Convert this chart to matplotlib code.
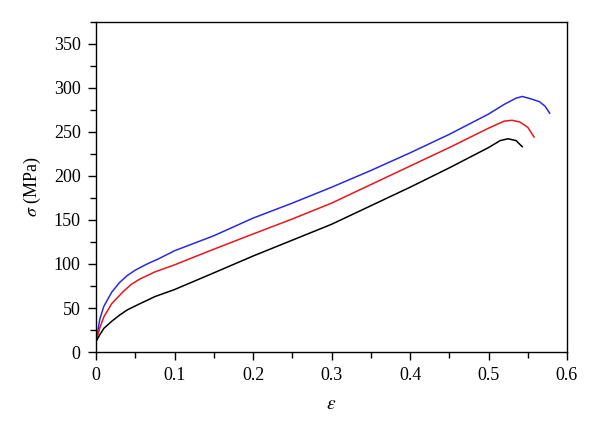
import matplotlib
matplotlib.use("Agg")
import matplotlib.pyplot as plt
from matplotlib.ticker import MultipleLocator

# Stress-strain curves
blue_strain = [0, 0.005, 0.01, 0.02, 0.03, 0.04, 0.05, 0.065, 0.08, 0.1, 0.15, 0.2, 0.25, 0.3,
               0.35, 0.4, 0.45, 0.5, 0.52, 0.535, 0.543, 0.555, 0.565, 0.572, 0.578]
blue_stress = [12, 38, 52, 68, 79, 87, 93, 100, 106, 115, 132, 152, 169, 187,
               206, 226, 247, 270, 281, 288, 290, 287, 284, 279, 271]

red_strain = [0, 0.005, 0.01, 0.02, 0.035, 0.045, 0.056, 0.075, 0.1, 0.145, 0.2, 0.25, 0.3,
              0.35, 0.4, 0.45, 0.5, 0.52, 0.53, 0.54, 0.55, 0.558]
red_stress = [12, 28, 40, 55, 69, 77, 83, 91, 99, 115, 134, 151, 169,
              190, 211, 232, 254, 262, 263, 261, 255, 244]

black_strain = [0, 0.005, 0.01, 0.02, 0.03, 0.04, 0.056, 0.075, 0.1, 0.145, 0.2, 0.25, 0.3,
                0.35, 0.4, 0.45, 0.5, 0.515, 0.525, 0.535, 0.543]
black_stress = [12, 20, 27, 35, 42, 48, 55, 63, 71, 88, 109, 127, 145,
                166, 187, 209, 232, 240, 242, 240, 233]

plt.rcParams["font.family"] = ["Liberation Serif", "DejaVu Serif"]
plt.rcParams["mathtext.fontset"] = "stix"

fig = plt.figure(figsize=(6, 4.3), dpi=100, facecolor="white")
ax = fig.add_axes([0.16, 0.181, 0.785, 0.769])

ax.plot(blue_strain, blue_stress, color="#2a2ae0", linewidth=1.1)
ax.plot(red_strain, red_stress, color="#e8171c", linewidth=1.1)
ax.plot(black_strain, black_stress, color="#000000", linewidth=1.1)

ax.set_xlim(0, 0.6)
ax.set_ylim(0, 375)
ax.xaxis.set_major_locator(MultipleLocator(0.1))
ax.xaxis.set_minor_locator(MultipleLocator(0.05))
ax.yaxis.set_major_locator(MultipleLocator(50))
ax.yaxis.set_minor_locator(MultipleLocator(25))
ax.xaxis.set_major_formatter(plt.FuncFormatter(lambda v, p: "0" if v == 0 else f"{v:g}"))

ax.tick_params(which="both", direction="out", top=False, right=False,
               labelsize=13, width=1.0, pad=5)
ax.tick_params(which="major", length=6)
ax.tick_params(which="minor", length=4)
for spine in ax.spines.values():
    spine.set_linewidth(1.0)

ax.set_xlabel(r"$\varepsilon$", fontsize=14, labelpad=8)
ax.set_ylabel(r"$\sigma$ (MPa)", fontsize=13, labelpad=8)

fig.savefig("out.png", dpi=100, facecolor="white")
